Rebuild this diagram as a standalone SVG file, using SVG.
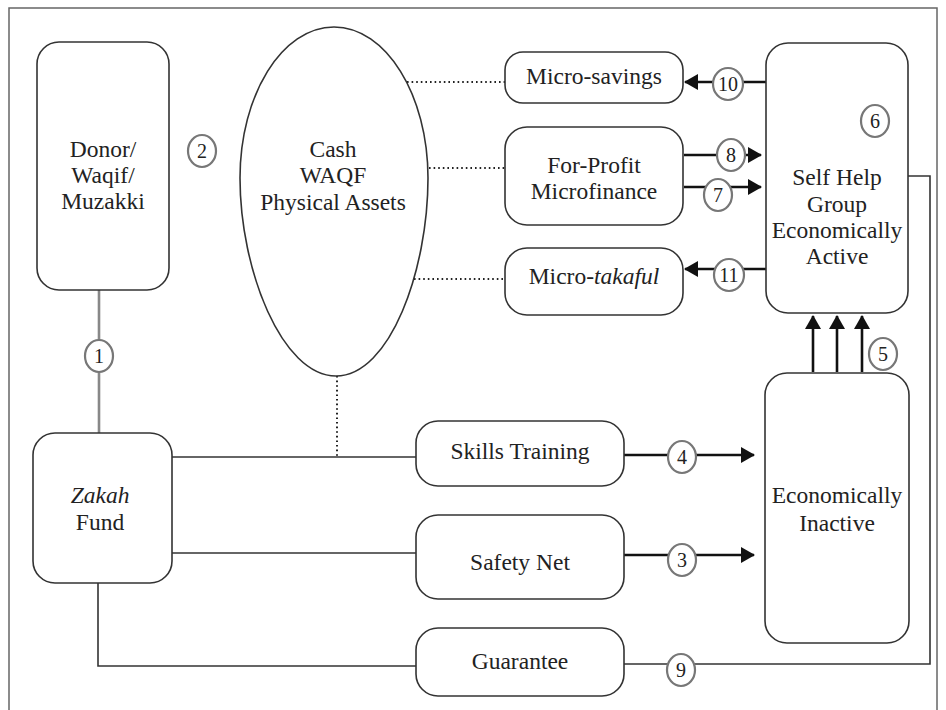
<svg xmlns="http://www.w3.org/2000/svg" width="946" height="710" viewBox="0 0 946 710">
<style>
.box{fill:#fff;stroke:#333;stroke-width:1.6}
.lbl{font-size:23.5px;fill:#222;text-anchor:middle}
.num{font-size:20px;fill:#222;text-anchor:middle}
.badge{fill:#fff;stroke:#777;stroke-width:2.2}
.conn{fill:none;stroke:#333;stroke-width:1.6}
.dot{fill:none;stroke:#222;stroke-width:2;stroke-dasharray:1.6 3}
.arr{fill:none;stroke:#111;stroke-width:2.6}
.gray{fill:none;stroke:#888;stroke-width:2.6}
</style>
<defs>
<marker id="ah" markerUnits="userSpaceOnUse" markerWidth="14" markerHeight="16" refX="13" refY="8" orient="auto">
<path d="M0,0 L14,8 L0,16 Z" fill="#111"/>
</marker>
</defs>
<rect x="9" y="8" width="928" height="720" fill="none" stroke="#666" stroke-width="1.5"/>

<g id="connectors">
<line class="gray" x1="99" y1="290" x2="99" y2="433"/>
<line class="dot" x1="407" y1="82" x2="505" y2="82"/>
<line class="dot" x1="429" y1="168" x2="505" y2="168"/>
<line class="dot" x1="414" y1="279" x2="505" y2="279"/>
<line class="dot" x1="337" y1="376" x2="337" y2="456"/>
<line class="conn" x1="172" y1="457" x2="416" y2="457"/>
<line class="conn" x1="172" y1="553" x2="416" y2="553"/>
<polyline class="conn" points="98,583 98,666 416,666"/>
<polyline class="conn" points="908,176 930,176 930,664 624,664"/>
<line class="arr" x1="766" y1="82" x2="685" y2="82" marker-end="url(#ah)"/>
<line class="arr" x1="684" y1="155" x2="761" y2="155" marker-end="url(#ah)"/>
<line class="arr" x1="684" y1="187" x2="761" y2="187" marker-end="url(#ah)"/>
<line class="arr" x1="766" y1="269" x2="685" y2="269" marker-end="url(#ah)"/>
<line class="arr" x1="624" y1="455" x2="754" y2="455" marker-end="url(#ah)"/>
<line class="arr" x1="624" y1="555" x2="754" y2="555" marker-end="url(#ah)"/>
<line class="arr" x1="813" y1="372" x2="813" y2="316" marker-end="url(#ah)"/>
<line class="arr" x1="837" y1="372" x2="837" y2="316" marker-end="url(#ah)"/>
<line class="arr" x1="862" y1="372" x2="862" y2="316" marker-end="url(#ah)"/>
</g>

<g font-family="Liberation Serif, DejaVu Serif, Times New Roman, Times, serif">
<g id="donor">
<rect class="box" x="37" y="42" width="132" height="248" rx="22"/>
<text class="lbl" x="103" y="157">Donor/</text>
<text class="lbl" x="103" y="183">Waqif/</text>
<text class="lbl" x="103" y="209">Muzakki</text>
</g>

<g id="waqf">
<path class="box" d="M334,27 C386,27 428,95 428,178 C428,270 390,376 336,376 C282,376 240,270 240,178 C240,95 282,27 334,27 Z"/>
<text class="lbl" x="333" y="157">Cash</text>
<text class="lbl" x="333" y="183">WAQF</text>
<text class="lbl" x="333" y="210">Physical Assets</text>
</g>

<g id="micro-savings">
<rect class="box" x="505" y="52" width="178" height="51" rx="18"/>
<text class="lbl" x="594" y="84">Micro-savings</text>
</g>

<g id="for-profit">
<rect class="box" x="505" y="127" width="178" height="98" rx="22"/>
<text class="lbl" x="594" y="173">For-Profit</text>
<text class="lbl" x="594" y="199">Microfinance</text>
</g>

<g id="micro-takaful">
<rect class="box" x="505" y="248" width="178" height="67" rx="22"/>
<text class="lbl" x="594" y="284">Micro-<tspan font-style="italic">takaful</tspan></text>
</g>

<g id="shg">
<rect class="box" x="766" y="43" width="142" height="270" rx="22"/>
<text class="lbl" x="837" y="185">Self Help</text>
<text class="lbl" x="837" y="212">Group</text>
<text class="lbl" x="837" y="238">Economically</text>
<text class="lbl" x="837" y="264">Active</text>
</g>

<g id="inactive">
<rect class="box" x="765" y="373" width="144" height="270" rx="22"/>
<text class="lbl" x="837" y="503">Economically</text>
<text class="lbl" x="837" y="531">Inactive</text>
</g>

<g id="zakah">
<rect class="box" x="33" y="433" width="139" height="150" rx="22"/>
<text class="lbl" x="100" y="503" font-style="italic">Zakah</text>
<text class="lbl" x="100" y="530">Fund</text>
</g>

<g id="skills">
<rect class="box" x="416" y="421" width="208" height="65" rx="22"/>
<text class="lbl" x="520" y="459">Skills Training</text>
</g>

<g id="safety">
<rect class="box" x="416" y="515" width="208" height="84" rx="22"/>
<text class="lbl" x="520" y="570">Safety Net</text>
</g>

<g id="guarantee">
<rect class="box" x="416" y="628" width="208" height="68" rx="22"/>
<text class="lbl" x="520" y="669">Guarantee</text>
</g>

<g id="badges">
<ellipse class="badge" cx="99" cy="356" rx="14" ry="16"/><text class="num" x="99" y="363">1</text>
<ellipse class="badge" cx="202" cy="151" rx="14" ry="16"/><text class="num" x="202" y="158">2</text>
<ellipse class="badge" cx="682" cy="560" rx="14" ry="16"/><text class="num" x="682" y="567">3</text>
<ellipse class="badge" cx="682" cy="457" rx="14" ry="16"/><text class="num" x="682" y="464">4</text>
<ellipse class="badge" cx="883" cy="354" rx="14" ry="16"/><text class="num" x="883" y="361">5</text>
<ellipse class="badge" cx="875" cy="121" rx="14" ry="16"/><text class="num" x="875" y="128">6</text>
<ellipse class="badge" cx="718" cy="195" rx="14" ry="16"/><text class="num" x="718" y="202">7</text>
<ellipse class="badge" cx="731" cy="155" rx="14" ry="16"/><text class="num" x="731" y="162">8</text>
<ellipse class="badge" cx="681" cy="670" rx="14" ry="16"/><text class="num" x="681" y="677">9</text>
<ellipse class="badge" cx="728" cy="84" rx="15" ry="16"/><text class="num" x="728" y="91">10</text>
<ellipse class="badge" cx="729" cy="275" rx="15" ry="16"/><text class="num" x="729" y="282">11</text>
</g>
</g>
</svg>
